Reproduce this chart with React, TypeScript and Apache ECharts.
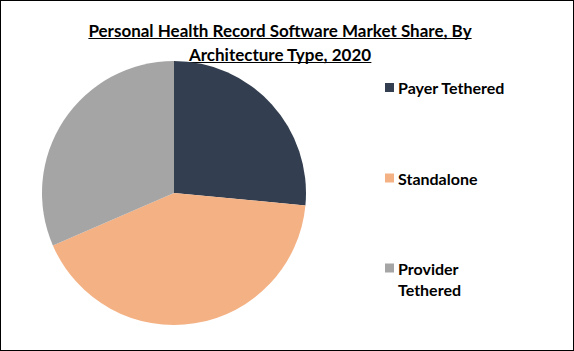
import React, { useEffect, useRef } from "react";
import * as echarts from "echarts";

const titleLines = ["Personal Health Record Software Market Share, By", "Architecture Type, 2020"];
const categories = ["Payer Tethered", "Standalone", "Provider Tethered"];
const legendLabels = ["Payer Tethered", "Standalone", "Provider\nTethered"];
const values = [26.5, 42.0, 31.5];
const colors = ["#333F50", "#F4B183", "#A5A5A5"];

const FONT = "Lato, 'Noto Sans', sans-serif";

function measure(text: string, font: string): number {
  const c = document.createElement("canvas").getContext("2d");
  if (!c) return text.length * 8;
  c.font = font;
  return c.measureText(text).width;
}

export default function App() {
  const ref = useRef<HTMLDivElement>(null);
  useEffect(() => {
    document.body.style.margin = "0";
    if (!ref.current) return;
    const chart = echarts.init(ref.current, null, { renderer: "svg" });
    const titleX = 279;
    const titleY = [29, 53];
    const titleFontSize = 17;
    const titleFont = `bold ${titleFontSize}px Lato`;
    const graphics: any[] = [];
    titleLines.forEach((t, i) => {
      const w = measure(t, titleFont);
      graphics.push({
        type: "text",
        x: titleX,
        y: titleY[i],
        style: {
          text: t,
          fill: "#000",
          font: `bold ${titleFontSize}px ${FONT}`,
          textAlign: "center",
          textVerticalAlign: "middle",
        },
      });
      graphics.push({
        type: "line",
        shape: { x1: titleX - w / 2, y1: titleY[i] + 8.5, x2: titleX + w / 2, y2: titleY[i] + 8.5 },
        style: { stroke: "#000", lineWidth: 1.2 },
      });
    });
    const legendY = [86.5, 177, 267];
    categories.forEach((c, i) => {
      graphics.push({
        type: "rect",
        shape: { x: 384, y: legendY[i] - 4.5, width: 9, height: 9 },
        style: { fill: colors[i] },
      });
      graphics.push({
        type: "text",
        x: 397,
        y: legendY[i] - 10.5,
        style: {
          text: legendLabels[i],
          fill: "#000",
          font: `bold 16px ${FONT}`,
          lineHeight: 21,
          textAlign: "left",
          textVerticalAlign: "top",
        },
      });
    });
    chart.setOption({
      animation: false,
      backgroundColor: "#fff",
      graphic: graphics,
      series: [
        {
          type: "pie",
          center: [173, 192],
          radius: 132,
          startAngle: 90,
          clockwise: true,
          label: { show: false },
          labelLine: { show: false },
          itemStyle: { borderWidth: 0 },
          emphasis: { disabled: true },
          data: categories.map((c, i) => ({ name: c, value: values[i], itemStyle: { color: colors[i] } })),
        },
      ],
    });
    return () => chart.dispose();
  }, []);
  return (
    <div
      ref={ref}
      style={{ width: 574, height: 351, boxSizing: "border-box", border: "1px solid #000" }}
    />
  );
}
